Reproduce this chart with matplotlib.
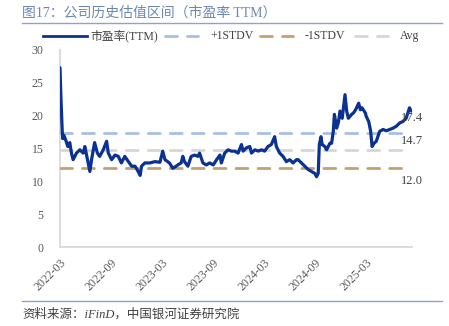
import matplotlib
matplotlib.use("Agg")
import matplotlib.pyplot as plt
import matplotlib.dates as mdates
from matplotlib.lines import Line2D
import pandas as pd

plt.rcParams['font.family'] = ['Liberation Serif', 'Noto Sans CJK SC', 'DejaVu Sans']

dates = [
    "2022-03-01", "2022-03-04", "2022-03-07", "2022-03-09", "2022-03-11", "2022-03-15",
    "2022-03-23", "2022-03-29", "2022-04-05", "2022-04-11", "2022-04-17", "2022-04-29",
    "2022-05-11", "2022-05-23", "2022-05-29", "2022-06-10", "2022-06-16", "2022-06-22",
    "2022-07-03", "2022-07-13", "2022-07-21", "2022-08-03", "2022-08-15", "2022-08-21",
    "2022-09-02", "2022-09-14", "2022-09-26", "2022-10-07", "2022-10-19", "2022-11-01",
    "2022-11-13", "2022-11-25", "2022-12-06", "2022-12-13", "2022-12-18", "2022-12-30",
    "2023-01-17", "2023-02-04", "2023-02-22", "2023-03-04", "2023-03-12", "2023-03-28",
    "2023-04-09", "2023-04-21", "2023-04-27", "2023-05-09", "2023-05-15", "2023-05-21",
    "2023-06-02", "2023-06-14", "2023-06-26", "2023-07-08", "2023-07-14", "2023-07-26",
    "2023-08-07", "2023-08-19", "2023-09-01", "2023-09-13", "2023-09-25", "2023-09-30",
    "2023-10-12", "2023-10-24", "2023-11-05", "2023-11-17", "2023-11-29", "2023-12-11",
    "2023-12-17", "2023-12-29", "2024-01-10", "2024-01-16", "2024-01-28", "2024-02-09",
    "2024-02-21", "2024-03-03", "2024-03-15", "2024-03-27", "2024-04-08", "2024-04-14",
    "2024-04-26", "2024-05-08", "2024-05-20", "2024-06-01", "2024-06-13", "2024-06-25",
    "2024-07-01", "2024-07-13", "2024-07-25", "2024-08-06", "2024-08-18", "2024-08-30",
    "2024-09-05", "2024-09-11", "2024-09-15", "2024-09-21", "2024-09-25", "2024-10-05",
    "2024-10-11", "2024-10-23", "2024-10-29", "2024-11-04", "2024-11-08", "2024-11-16",
    "2024-11-22", "2024-11-28", "2024-12-06", "2024-12-16", "2024-12-22", "2024-12-28",
    "2025-01-09", "2025-01-15", "2025-01-23", "2025-02-03", "2025-02-09", "2025-02-15",
    "2025-02-27", "2025-03-02", "2025-03-11", "2025-03-18", "2025-03-23", "2025-03-30",
    "2025-04-07", "2025-04-19", "2025-05-01", "2025-05-13", "2025-05-25", "2025-06-06",
    "2025-06-18", "2025-06-30", "2025-07-11", "2025-07-23", "2025-08-04", "2025-08-10",
]
pe_ttm = [
    27.3, 23.2, 20.0, 17.6, 16.5, 17.0,
    16.1, 15.3, 15.9, 14.3, 13.3, 14.3,
    14.8, 14.3, 15.3, 12.8, 11.5, 13.3,
    15.9, 14.3, 13.8, 14.8, 16.1, 14.3,
    13.3, 14.0, 13.8, 12.8, 13.8, 13.0,
    12.3, 12.3, 11.5, 10.9, 12.3, 12.8,
    12.8, 13.0, 12.9, 14.6, 13.3, 12.8,
    12.0, 12.3, 12.5, 12.8, 13.8, 13.0,
    12.3, 13.8, 14.0, 13.8, 14.3, 12.8,
    12.5, 12.8, 12.5, 13.3, 14.0, 12.8,
    14.3, 14.8, 14.6, 14.6, 14.3, 15.6,
    14.6, 15.1, 15.3, 14.3, 14.8, 14.6,
    14.8, 14.6, 15.3, 15.6, 16.8, 15.3,
    14.3, 13.8, 13.0, 13.3, 12.8, 13.3,
    13.3, 12.8, 12.3, 11.8, 11.5, 11.2,
    10.7, 11.2, 15.6, 16.8, 15.6, 15.3,
    14.8, 15.8, 15.8, 17.6, 20.2, 18.1,
    18.9, 20.7, 19.6, 23.2, 20.7, 19.6,
    20.2, 20.4, 20.9, 21.9, 20.9, 21.2,
    20.4, 19.9, 19.1, 17.6, 15.3, 15.8,
    16.1, 17.6, 17.9, 17.7, 17.9, 18.1,
    18.4, 18.9, 19.1, 19.6, 21.2, 20.7,
]
plus_1std = 17.4
minus_1std = 12.0
avg = 14.7
tick_dates = ["2022-03-01", "2022-09-01", "2023-03-01", "2023-09-01",
              "2024-03-01", "2024-09-01", "2025-03-01"]

series_labels = ["市盈率(TTM)", "+1STDV", "-1STDV", "Avg"]
c_main = "#0b3192"
c_plus = "#a9bde6"
c_minus = "#c0a273"
c_avg = "#d6d6d6"

W, H = 449, 326
fig = plt.figure(figsize=(W / 100, H / 100), dpi=100)

def fx(px):
    return px / W

def fy(py):
    return 1 - py / H

ax = fig.add_axes([fx(60), fy(247), fx(412) - fx(60), fy(50) - fy(247)])

d = pd.to_datetime(dates)
ax.plot(d, pe_ttm, color=c_main, lw=2.3, solid_joinstyle='round',
        solid_capstyle='round', zorder=5)

x0 = pd.Timestamp("2022-03-01")
x1 = pd.Timestamp("2025-08-10")
dash = (4.3, 3.6)
for val, col in [(plus_1std, c_plus), (minus_1std, c_minus), (avg, c_avg)]:
    ax.plot([x0, x1], [val, val], color=col, lw=2.0, dashes=dash,
            dash_capstyle='round', zorder=3)

ax.set_xlim(pd.Timestamp("2022-03-01"), pd.Timestamp("2025-08-13"))
ax.set_ylim(0, 30)
ax.set_yticks([0, 5, 10, 15, 20, 25, 30])
ax.set_xticks(pd.to_datetime(tick_dates))
ax.xaxis.set_major_formatter(mdates.DateFormatter("%Y-%m"))
ax.tick_params(axis='y', length=0, pad=12, labelsize=8.5, labelcolor="#595959")
ax.tick_params(axis='x', length=0, pad=7, labelsize=8.5, labelcolor="#595959")
for lab in ax.get_xticklabels():
    lab.set_rotation(45)
    lab.set_ha('right')
    lab.set_rotation_mode('anchor')

for s in ['top', 'right']:
    ax.spines[s].set_visible(False)
for s in ['left', 'bottom']:
    ax.spines[s].set_color("#d9d9d9")
    ax.spines[s].set_linewidth(1.3)

# value labels on the right
ax.text(1.0, plus_1std + 2.2, f"{plus_1std:.1f}", transform=ax.get_yaxis_transform(),
        ha='center', va='center', fontsize=9, color="#404040", zorder=6)
ax.text(1.0, avg + 1.4, f"{avg:.1f}", transform=ax.get_yaxis_transform(),
        ha='center', va='center', fontsize=9, color="#404040")
ax.text(1.0, minus_1std - 2.0, f"{minus_1std:.1f}", transform=ax.get_yaxis_transform(),
        ha='center', va='center', fontsize=9, color="#404040")

# title and rules
fig.text(fx(22), fy(13), "图17：公司历史估值区间（市盈率 TTM）", fontsize=10,
         color="#6a87b3", ha='left', va='center')
fig.add_artist(Line2D([fx(22), fx(442)], [fy(23), fy(23)], color="#8fa3c8", lw=1.0))
fig.add_artist(Line2D([fx(22), fx(442)], [fy(301), fy(301)], color="#8fa3c8", lw=1.0))
fig.text(fx(22), fy(314), "资料来源：iFinD，中国银河证券研究院", fontsize=9,
         color="#404040", ha='left', va='center', style='italic')

# legend (manual)
ly = fy(36)
fig.add_artist(Line2D([fx(43), fx(87)], [ly, ly], color=c_main, lw=2.0))
fig.text(fx(90), ly, series_labels[0], fontsize=8.5, color="#404040", ha='left', va='center')
for (xa, xt, col, lab) in [(165, 210, c_plus, series_labels[1]),
                           (260, 305, c_minus, series_labels[2]),
                           (355, 400, c_avg, series_labels[3])]:
    fig.add_artist(Line2D([fx(xa), fx(xa + 33)], [ly, ly], color=col, lw=2.0,
                          dashes=(4.3, 3.6), dash_capstyle='round'))
    fig.text(fx(xt), ly, lab, fontsize=8.5, color="#404040", ha='left', va='center')

fig.savefig("out.png", dpi=100)
